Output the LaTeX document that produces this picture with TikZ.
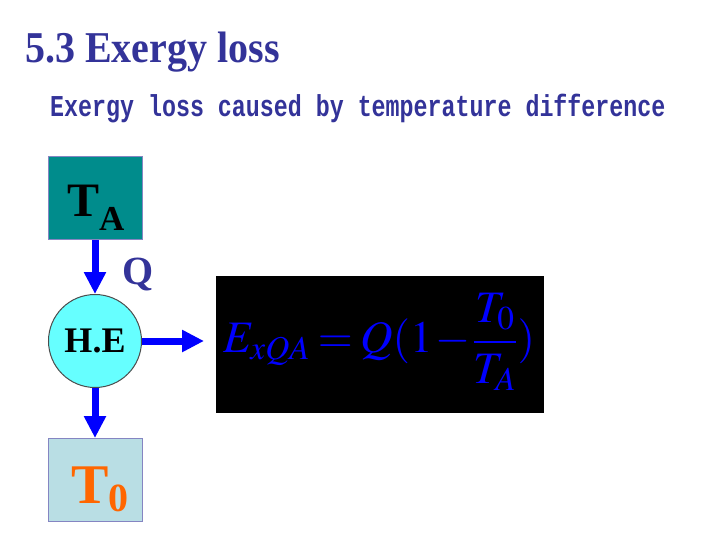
\documentclass[tikz,border=0pt]{standalone}
\usepackage{mathptmx}
\usepackage{fontspec}
\setmainfont{Liberation Serif}
\newfontfamily\subfont{Liberation Mono}
\usetikzlibrary{arrows.meta}
\definecolor{titleblue}{RGB}{51,51,153}
\definecolor{hotteal}{RGB}{0,140,140}
\definecolor{hecyan}{RGB}{102,255,255}
\definecolor{coldgray}{RGB}{185,222,228}
\definecolor{coldorange}{RGB}{255,102,0}
\newcommand\sz[1]{\fontsize{#1}{#1}\selectfont}

\begin{document}
\begin{tikzpicture}[x=1pt,y=-1pt,
    box/.style={draw=titleblue!60, line width=1pt, minimum width=94pt, minimum height=83pt},
    flow/.style={draw={rgb,255:red,0;green,0;blue,255}, line width=7pt,
      -{Triangle[width=21pt,length=22pt]}}]
    \useasboundingbox (0,0) rectangle (720,540);

    % heading
    \node[anchor=base west, inner sep=0pt, text=titleblue] (Title) at (25,63)
      {\scalebox{1}[1.1]{\sz{40}\bfseries 5.3 Exergy loss}};
    \node[anchor=base west, inner sep=0pt, text=titleblue] (Sub) at (50,117)
      {\scalebox{1}[1.3]{\sz{23.3}\subfont\bfseries Exergy loss caused by temperature difference}};

    % reservoirs and exchanger
    \node[box, fill=hotteal] (TA) at (95,198) {};
    \node[anchor=base west, inner sep=0pt] (TAtxt) at (67,216)
      {\sz{48}\bfseries T\raisebox{-14pt}{\sz{35}A}};
    \node[draw=black!70, line width=1pt, circle, fill=hecyan, minimum size=93pt] (HE) at (95,341)
      {\sz{36}\bfseries H.E};
    \node[box, fill=coldgray] (T0) at (95,480) {};
    \node[anchor=base west, inner sep=0pt, text=coldorange] (T0txt) at (71,503)
      {\sz{56}\bfseries T\raisebox{-8pt}{\sz{40}0}};
    \coordinate (HEout) at (204,341);

    \draw[flow] (TA) -- (HE);
    \draw[flow] (HE) -- (T0);
    \draw[flow] (HE.east) -- (HEout);

    \node[text=titleblue] (Q) at (138,274) {\sz{40}\bfseries Q};

    % result
    \node[fill=black, minimum width=328pt, minimum height=137pt] (Res) at (380,344.5) {};
    \node[text={rgb,255:red,0;green,0;blue,255}] (Form) at (379,342)
      {\sz{45}\thickmuskip=3mu\medmuskip=1mu$\displaystyle E_{xQA}=Q(1-\frac{T_0}{T_A})$};
\end{tikzpicture}
\end{document}
